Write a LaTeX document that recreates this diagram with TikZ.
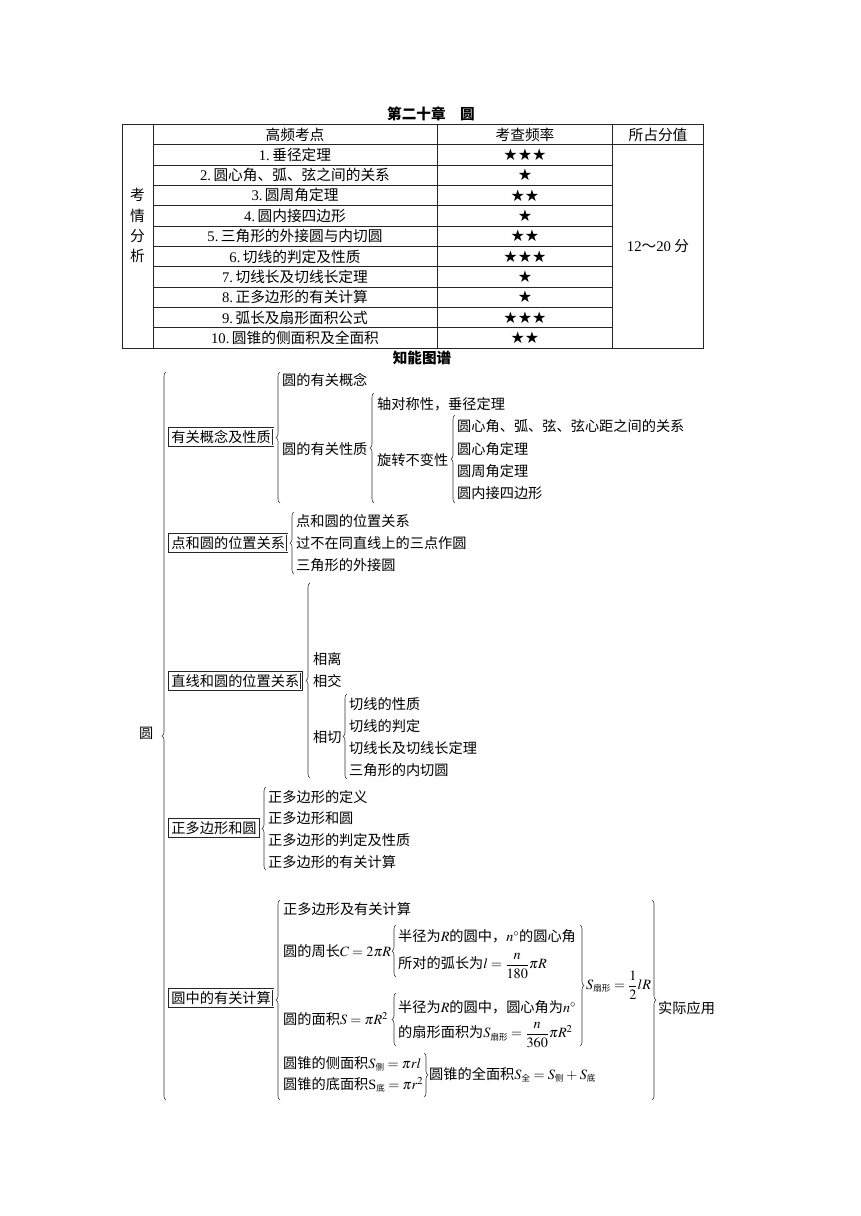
\documentclass[tikz,border=0pt]{standalone}
\usepackage{amsmath}
\usepackage{mathptmx}
\usepackage{fontspec}
\setmainfont{Noto Sans CJK SC}
\newfontfamily\lat{Liberation Serif}
\newfontfamily\sym{DejaVu Sans}
\usetikzlibrary{decorations.pathreplacing}
\newcommand{\zsub}[1]{_{\scriptscriptstyle\text{#1}}}
\begin{document}
\begin{tikzpicture}[x=1pt,y=-1pt,
  tb/.style={font=\fontsize{14.7}{16}\selectfont, inner sep=0pt},
  st/.style={font=\sym\fontsize{16}{16}\selectfont, inner sep=0pt},
  ttl/.style={font=\bfseries\fontsize{14.6}{16}\selectfont, inner sep=0pt},
  mm/.style={font=\fontsize{14.2}{16}\selectfont, inner sep=0pt, anchor=west},
  bx/.style={mm, draw=black!85, double=white, double distance=1.1pt, line width=0.5pt, inner sep=2.2pt},
  lbrace/.style={decorate, decoration={brace, amplitude=4pt}, line width=0.6pt, black!80},
  grid/.style={line width=0.7pt, black!85}]
\thickmuskip=4mu plus 2mu
\medmuskip=3mu plus 1mu
\fill[white] (0,0) rectangle (860,1216);
\useasboundingbox (0,0) rectangle (860,1216);
% ---------- table ----------
\node[ttl] (title) at (431,114) {第二十章　圆};
\draw[grid] (122,124) rectangle (703,348);
\draw[grid] (153,124) -- (153,348);
\draw[grid] (437,124) -- (437,348);
\draw[grid] (612,124) -- (612,348);
\draw[grid] (153,144.5) -- (703,144.5);
\foreach \i in {1,...,9} \draw[grid] (153,{144.5+20.35*\i}) -- (612,{144.5+20.35*\i});
\node[tb] (h1) at (295,134.5) {高频考点};
\node[tb] (h2) at (525,134.5) {考查频率};
\node[tb] (h3) at (658,134.5) {所占分值};
\foreach \t/\s [count=\i] in {
  {\lat 1.\,}垂径定理/★★★,
  {\lat 2.\,}圆心角、弧、弦之间的关系/★,
  {\lat 3.\,}圆周角定理/★★,
  {\lat 4.\,}圆内接四边形/★,
  {\lat 5.\,}三角形的外接圆与内切圆/★★,
  {\lat 6.\,}切线的判定及性质/★★★,
  {\lat 7.\,}切线长及切线长定理/★,
  {\lat 8.\,}正多边形的有关计算/★,
  {\lat 9.\,}弧长及扇形面积公式/★★★,
  {\lat 10.\,}圆锥的侧面积及全面积/★★}{
  \node[tb] (r\i) at (295,{144.5+20.35*(\i-0.5)}) {\t};
  \node[st] (s\i) at (525,{144.5+20.35*(\i-0.5)}) {\s};
}
\node[tb] (k1) at (137.5,195) {考};
\node[tb] (k2) at (137.5,215.5) {情};
\node[tb] (k3) at (137.5,236) {分};
\node[tb] (k4) at (137.5,256) {析};
\node[tb] (fz) at (658,246) {{\lat 12}～{\lat 20} 分};
% ---------- mind map ----------
\node[ttl] (zn) at (422,358) {知能图谱};
\node[mm] (root) at (139,733) {圆};
\draw[lbrace] (166,1100) -- (166,372);

% 1
\node[bx] (b1) at (169,437) {有关概念及性质};
\draw[lbrace] (280,503) -- (280,372);
\node[mm] (n11) at (282,380) {圆的有关概念};
\node[mm] (n12) at (282,449) {圆的有关性质};
\draw[lbrace] (374,503) -- (374,393);
\node[mm] (n121) at (377,404) {轴对称性，垂径定理};
\node[mm] (n122) at (377,460) {旋转不变性};
\draw[lbrace] (455,503) -- (455,415);
\node[mm] (m1) at (457,426) {圆心角、弧、弦、弦心距之间的关系};
\node[mm] (m2) at (457,449) {圆心角定理};
\node[mm] (m3) at (457,471) {圆周角定理};
\node[mm] (m4) at (457,493) {圆内接四边形};

% 2
\node[bx] (b2) at (169,543) {点和圆的位置关系};
\draw[lbrace] (294,574) -- (294,512);
\node[mm] (n21) at (296,521) {点和圆的位置关系};
\node[mm] (n22) at (296,543) {过不在同直线上的三点作圆};
\node[mm] (n23) at (296,565) {三角形的外接圆};

% 3
\node[bx] (b3) at (169,681) {直线和圆的位置关系};
\draw[lbrace] (310,778) -- (310,583);
\node[mm] (n31) at (313,659) {相离};
\node[mm] (n32) at (313,681) {相交};
\node[mm] (n33) at (313,737) {相切};
\draw[lbrace] (347,779) -- (347,694);
\node[mm] (t1) at (349,704) {切线的性质};
\node[mm] (t2) at (349,726) {切线的判定};
\node[mm] (t3) at (349,748) {切线长及切线长定理};
\node[mm] (t4) at (349,770) {三角形的内切圆};

% 4
\node[bx] (b4) at (169,828) {正多边形和圆};
\draw[lbrace] (266,870) -- (266,787);
\node[mm] (n41) at (268,797) {正多边形的定义};
\node[mm] (n42) at (268,818) {正多边形和圆};
\node[mm] (n43) at (268,840) {正多边形的判定及性质};
\node[mm] (n44) at (268,862) {正多边形的有关计算};

% 5
\node[bx] (b5) at (169,998) {圆中的有关计算};
\draw[lbrace] (280,1100) -- (280,900);
\node[mm] (n51) at (283,909) {正多边形及有关计算};
\node[mm] (n52) at (283,951) {圆的周长$C=2\pi R$};
\node[mm] (n53) at (283,1019) {圆的面积$S=\pi R^2$};
\node[mm] (n54) at (283,1064) {圆锥的侧面积$S\zsub{侧}=\pi rl$};
\node[mm] (n55) at (283,1085) {圆锥的底面积{\lat S}$\zsub{底}=\pi r^2$};

\draw[lbrace] (396,977) -- (396,925);
\node[mm] (a1) at (398,936) {半径为$R$的圆中，$n^\circ$的圆心角};
\node[mm] (a2) at (398,966) {所对的弧长为$l=\dfrac{n}{180}\pi R$};
\draw[lbrace] (396,1046) -- (396,993);
\node[mm] (c1) at (398,1007) {半径为$R$的圆中，圆心角为$n^\circ$};
\node[mm] (c2) at (398,1035) {的扇形面积为$S\zsub{扇形}=\dfrac{n}{360}\pi R^2$};

\draw[lbrace] (580,925) -- (580,1046);
\node[mm] (sf) at (586,985) {$S\zsub{扇形}=\dfrac{1}{2}lR$};
\draw[lbrace] (424,1053) -- (424,1097);
\node[mm] (qm) at (429,1075) {圆锥的全面积$S\zsub{全}=S\zsub{侧}+S\zsub{底}$};
\draw[lbrace] (652,900) -- (652,1100);
\node[mm] (sj) at (658,1008) {实际应用};
\end{tikzpicture}
\end{document}
